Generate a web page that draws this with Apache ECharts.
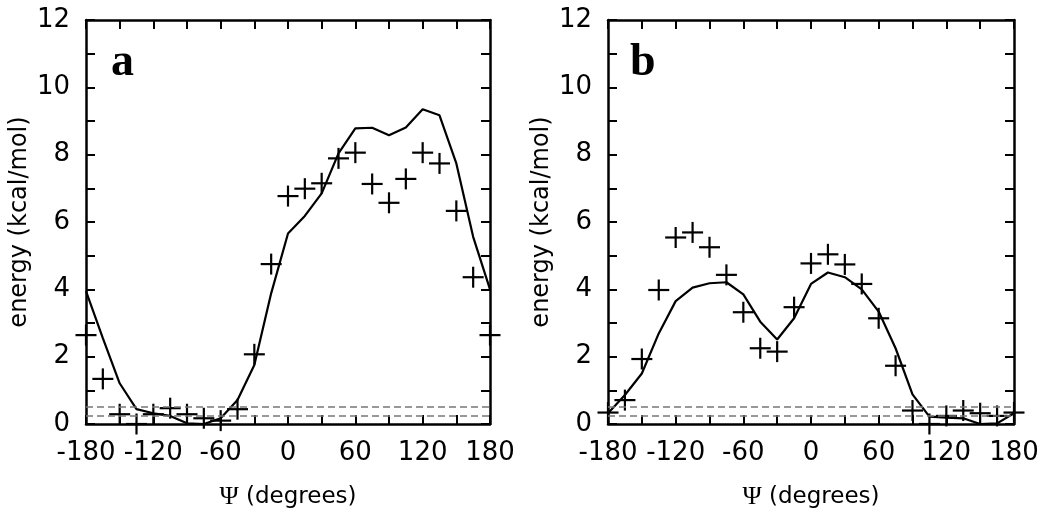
<!DOCTYPE html>
<html>
<head>
<meta charset="utf-8">
<script src="https://cdn.jsdelivr.net/npm/echarts@6/dist/echarts.min.js"></script>
<style>
html,body{margin:0;padding:0;background:#fff;}
#c{width:1050px;height:517px;}
</style>
</head>
<body>
<div id="c"></div>
<script>
// Psi angles (degrees)
const psi = [-180,-165,-150,-135,-120,-105,-90,-75,-60,-45,-30,-15,0,15,30,45,60,75,90,105,120,135,150,165,180];
// Panel a
const aCurve = [3.95,2.55,1.21,0.44,0.32,0.24,0.02,0.0,0.17,0.71,1.75,3.88,5.66,6.18,6.85,8.04,8.78,8.80,8.58,8.81,9.35,9.17,7.74,5.56,4.0];
const aPoints = [2.64,1.34,0.29,0.0,0.29,0.47,0.29,0.17,0.1,0.44,2.07,4.75,6.77,6.99,7.15,7.89,8.06,7.13,6.57,7.28,8.06,7.74,6.33,4.36,2.64];
// Panel b
const bCurve = [0.32,0.86,1.50,2.69,3.65,4.05,4.18,4.21,3.85,3.04,2.51,3.14,4.16,4.50,4.36,4.0,3.34,2.25,0.88,0.22,0.19,0.17,0.0,0.02,0.32];
const bPoints = [0.34,0.71,1.93,3.98,5.54,5.69,5.25,4.43,3.32,2.25,2.15,3.47,4.77,5.04,4.74,4.16,3.14,1.73,0.40,0.0,0.24,0.40,0.32,0.24,0.34];
// Reference thresholds (dashed lines)
const thresholds = [0.5, 0.25];
const xTicks = [-180,-120,-60,0,60,120,180];
const yTicks = [0,2,4,6,8,10,12];
const panelLabels = ['a','b'];

const chart = echarts.init(document.getElementById('c'), null, {renderer:'canvas'});

const fontSans = 'DejaVu Sans';
const grids = [
  {left:86, top:20, width:404, height:404},
  {left:608, top:20, width:406, height:404}
];

const xAxes = [], yAxes = [], series = [];
grids.forEach((g, i) => {
  const tickCommon = {show:true, inside:true, length:9, lineStyle:{color:'#000', width:2}};
  const minorCommon = {show:true, splitNumber:2, length:9, lineStyle:{color:'#000', width:2}};
  const axLine = {show:true, onZero:false, lineStyle:{color:'#000', width:2.5}};
  xAxes.push({
    type:'value', gridIndex:i, min:-180, max:180, interval:60, position:'bottom',
    axisLine:axLine,
    axisTick:tickCommon, minorTick:minorCommon, splitLine:{show:false},
    axisLabel:{show:true, margin:16, color:'#000', fontFamily:fontSans, fontSize:26,
      formatter:v => xTicks.includes(v) ? String(v) : ''},
    name:'{psi|Ψ} (degrees)', nameLocation:'middle', nameGap:60,
    nameTextStyle:{color:'#000', fontFamily:fontSans, fontSize:23,
      rich:{psi:{fontFamily:'Liberation Serif', fontSize:26, color:'#000'}}}
  });
  xAxes.push({
    type:'value', gridIndex:i, min:-180, max:180, interval:60, position:'top',
    axisLine:axLine,
    axisTick:tickCommon, minorTick:minorCommon, splitLine:{show:false},
    axisLabel:{show:false}
  });
  yAxes.push({
    type:'value', gridIndex:i, min:0, max:12, interval:2, position:'left',
    axisLine:axLine,
    axisTick:tickCommon, minorTick:minorCommon, splitLine:{show:false},
    axisLabel:{show:true, margin:16, color:'#000', fontFamily:fontSans, fontSize:26,
      formatter:v => yTicks.includes(v) ? String(v) : ''},
    name:'energy (kcal/mol)', nameLocation:'middle', nameGap:54,
    nameTextStyle:{color:'#000', fontFamily:fontSans, fontSize:24}
  });
  yAxes.push({
    type:'value', gridIndex:i, min:0, max:12, interval:2, position:'right',
    axisLine:axLine,
    axisTick:tickCommon, minorTick:minorCommon, splitLine:{show:false},
    axisLabel:{show:false}
  });
});

function crossRender(params, api){
  const p = api.coord([api.value(0), api.value(1)]);
  const h = 10.5;
  return {type:'group', children:[
    {type:'line', shape:{x1:p[0]-h, y1:p[1], x2:p[0]+h, y2:p[1]}, style:{stroke:'#000', lineWidth:2.2}},
    {type:'line', shape:{x1:p[0], y1:p[1]-h, x2:p[0], y2:p[1]+h}, style:{stroke:'#000', lineWidth:2.2}}
  ]};
}

const curves = [aCurve, bCurve];
const points = [aPoints, bPoints];
[0,1].forEach(i => {
  series.push({
    type:'line', xAxisIndex:i*2, yAxisIndex:i*2,
    data: psi.map((x,k) => [x, curves[i][k]]),
    showSymbol:false, symbol:'none', animation:false,
    lineStyle:{color:'#000', width:2.2},
    markLine:{silent:true, symbol:'none', animation:false, label:{show:false},
      lineStyle:{color:'#777', type:[7,4], width:1.5},
      data: thresholds.map(t => ({yAxis:t}))}
  });
  series.push({
    type:'custom', xAxisIndex:i*2, yAxisIndex:i*2, clip:false, animation:false,
    data: psi.map((x,k) => [x, points[i][k]]),
    renderItem: crossRender
  });
});

chart.setOption({
  backgroundColor:'#fff',
  animation:false,
  grid: grids,
  xAxis: xAxes,
  yAxis: yAxes,
  series: series,
  graphic: panelLabels.map((t, i) => ({
    type:'text', left: grids[i].left + 25 - (i===1 ? 3 : 0), top: 40,
    style:{text:t, fontFamily:'Liberation Serif', fontWeight:'bold', fontSize:46, fill:'#000'}
  }))
});
</script>
</body>
</html>
